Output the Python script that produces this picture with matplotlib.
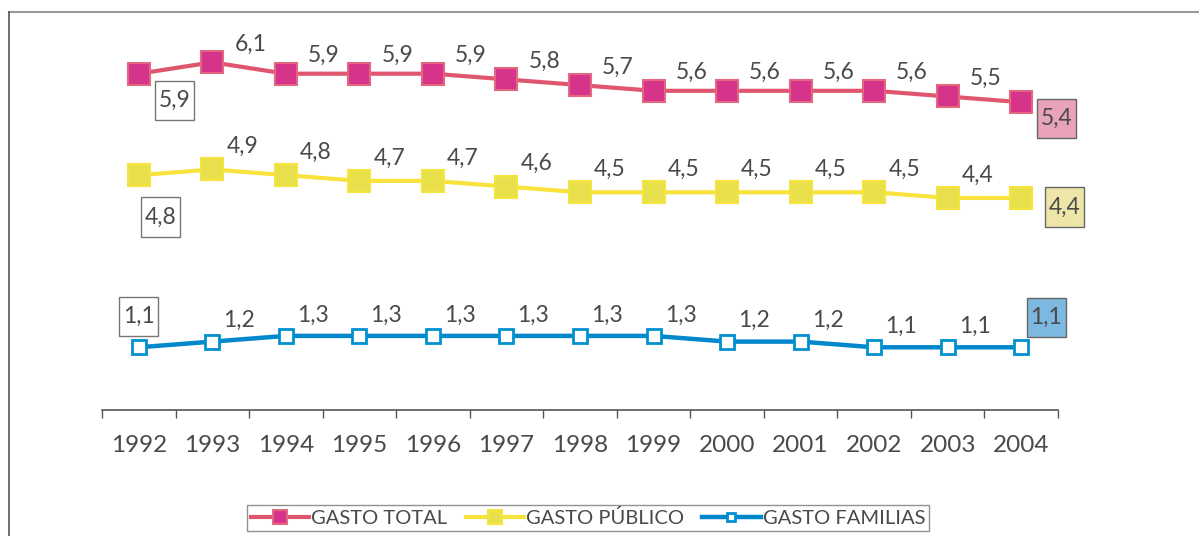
import numpy as np
import matplotlib.pyplot as plt
from matplotlib.lines import Line2D
from matplotlib.path import Path

plt.rcParams['font.family'] = ['Lato', 'DejaVu Sans']

years = ['1992', '1993', '1994', '1995', '1996', '1997', '1998',
         '1999', '2000', '2001', '2002', '2003', '2004']
gasto_total = [5.9, 6.1, 5.9, 5.9, 5.9, 5.8, 5.7, 5.6, 5.6, 5.6, 5.6, 5.5, 5.4]
gasto_publico = [4.8, 4.9, 4.8, 4.7, 4.7, 4.6, 4.5, 4.5, 4.5, 4.5, 4.5, 4.4, 4.4]
gasto_familias = [1.1, 1.2, 1.3, 1.3, 1.3, 1.3, 1.3, 1.3, 1.2, 1.2, 1.1, 1.1, 1.1]

TXT = '#4a4a4a'
x = np.arange(len(years))


def caja(x0, y0, width, height, mutation_size):
    # recuadro mas alto que ancho para las etiquetas de los extremos
    px = 0.16 * mutation_size
    py = 0.40 * mutation_size
    x1, y1 = x0 - px, y0 - py
    x2, y2 = x0 + width + px, y0 + height + py
    return Path([(x1, y1), (x2, y1), (x2, y2), (x1, y2), (x1, y1)],
                [Path.MOVETO, Path.LINETO, Path.LINETO, Path.LINETO, Path.CLOSEPOLY])


fig = plt.figure(figsize=(11.99, 5.36), dpi=100)
rect = [102 / 1199, 126 / 536, 956 / 1199, 380 / 536]
ax = fig.add_axes(rect)
# publico va en un eje aparte, desplazado hacia abajo
ax2 = fig.add_axes(rect, sharex=ax)
ax2.patch.set_visible(False)
ax2.axis('off')

yrange = 380 / 57
ax.set_ylim(0, yrange)
ax2.set_ylim(0.68, 0.68 + yrange)
ax.set_xlim(-0.5, len(years) - 0.5)

def fmt(v):
    return f'{v:.1f}'.replace('.', ',')

series = [
    (ax, gasto_total, 'GASTO TOTAL',
     dict(color='#e0566f', lw=3, marker='s', ms=16, mfc='#d6338a', mec='#e3687f', mew=1.5),
     (38, 18), (36, -27), (35, -16), '#e8a2ba'),
    (ax2, gasto_publico, 'GASTO PÚBLICO',
     dict(color='#f8e23c', lw=3, marker='s', ms=16, mfc='#e8e04a', mec='#f5e440', mew=1.5),
     (30, 23), (22, -42), (43, -9), '#ede6a8'),
    (ax, gasto_familias, 'GASTO FAMILIAS',
     dict(color='#0088cc', lw=3.2, marker='s', ms=9.5, mfc='white', mec='#0090d0', mew=2),
     (27, 21), (0, 31), (25, 30), '#7db8e0'),
]

FS = 16.5
handles = []
for a, vals, name, style, off, first_off, last_off, last_fc in series:
    a.plot(x, vals, **style, zorder=3)
    for i, v in enumerate(vals):
        if i == 0:
            a.annotate(fmt(v), (x[i], v), xytext=first_off, textcoords='offset pixels',
                       ha='center', va='center', fontsize=FS, color=TXT,
                       bbox=dict(boxstyle=caja, fc='white', ec='#777777', lw=1))
        elif i == len(vals) - 1:
            a.annotate(fmt(v), (x[i], v), xytext=last_off, textcoords='offset pixels',
                       ha='center', va='center', fontsize=FS, color=TXT,
                       bbox=dict(boxstyle=caja, fc=last_fc, ec='#666666', lw=1))
        else:
            a.annotate(fmt(v), (x[i], v), xytext=off, textcoords='offset pixels',
                       ha='center', va='center', fontsize=FS, color=TXT)
    hs = dict(style)
    hs['ms'] = style['ms'] * 0.62
    handles.append(Line2D([], [], label=name, **hs))

for s in ['top', 'right', 'left']:
    ax.spines[s].set_visible(False)
ax.spines['bottom'].set_color('#555555')
ax.spines['bottom'].set_linewidth(1.2)
ax.set_yticks([])
ax.set_xticks(x)
ax.set_xticklabels(years)
ax.set_xticks(np.arange(-0.5, len(years)), minor=True)
ax.tick_params(axis='x', which='major', length=0, pad=18, labelsize=17.5, labelcolor=TXT)
ax.tick_params(axis='x', which='minor', length=6, width=1, color='#555555', direction='out')

leg = fig.legend(handles=handles, loc='center', bbox_to_anchor=(588 / 1199, 18 / 536),
                 ncol=3, fontsize=14.5, frameon=True, fancybox=False,
                 handlelength=2.9, handletextpad=0.1, columnspacing=0.9,
                 borderpad=0.2, labelcolor=TXT)
leg.get_frame().set_edgecolor('#777777')
leg.get_frame().set_linewidth(1)

# marco exterior
fig.add_artist(Line2D([9 / 1199, 1], [1 - 12 / 536, 1 - 12 / 536], color='#999999', lw=1.5))
fig.add_artist(Line2D([9 / 1199, 9 / 1199], [0, 1 - 12 / 536], color='#555555', lw=1.2))

fig.savefig('out.png', dpi=100)
